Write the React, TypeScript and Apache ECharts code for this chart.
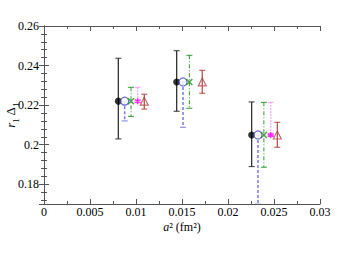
import React, { useEffect, useRef } from "react";
import * as echarts from "echarts";

// a^2 (fm^2) positions for each data set
const xBlack = [0.00808, 0.01442, 0.02257];
const xBlue = [0.00877, 0.01511, 0.02326];
const xGreen = [0.00946, 0.0158, 0.0239];
const xMagenta = [0.01018, 0.02464];
const xRed = [0.0109, 0.0172, 0.02536];

// central values r1*Delta1
const yBlack = [0.222, 0.2317, 0.2049];
const yBlue = [0.222, 0.2317, 0.2049];
const yGreen = [0.222, 0.2317, 0.2049];
const yMagenta = [0.222, 0.2049];
const yRed = [0.222, 0.2317, 0.2049];

// error bar lower / upper ends
const loBlack = [0.2029, 0.2169, 0.1889];
const hiBlack = [0.2437, 0.2475, 0.2216];
const loBlue = [0.212, 0.2088, 0.1699];
const hiBlue = [0.222, 0.2317, 0.2049];
const loGreen = [0.2143, 0.2184, 0.1886];
const hiGreen = [0.229, 0.2452, 0.2214];
const loMagenta = [0.222, 0.2049];
const hiMagenta = [0.229, 0.2214];
const loRed = [0.218, 0.226, 0.1987];
const hiRed = [0.2255, 0.2376, 0.2113];

const FONT = "'Liberation Serif', 'Times New Roman', serif";

function fmt(v: number) {
  return String(+v.toFixed(4));
}

function errSeries(xs: number[], lo: number[], hi: number[], color: string, width: number, dash: number[] | null) {
  return {
    type: "custom",
    xAxisIndex: 0,
    yAxisIndex: 0,
    clip: true,
    silent: true,
    encode: { x: 0, y: [1, 2] },
    data: xs.map((x, i) => [x, lo[i], hi[i]]),
    renderItem: (params: any, api: any) => {
      const x = api.value(0);
      const top = api.coord([x, api.value(2)]);
      const bot = api.coord([x, api.value(1)]);
      const hw = 3;
      const style: any = { stroke: color, lineWidth: width, fill: "none" };
      if (dash) style.lineDash = dash;
      return {
        type: "group",
        children: [
          { type: "line", shape: { x1: top[0], y1: top[1], x2: bot[0], y2: bot[1] }, style },
          { type: "line", shape: { x1: top[0] - hw, y1: top[1], x2: top[0] + hw, y2: top[1] }, style: { stroke: color, lineWidth: 1 } },
          { type: "line", shape: { x1: bot[0] - hw, y1: bot[1], x2: bot[0] + hw, y2: bot[1] }, style: { stroke: color, lineWidth: 1 } },
        ],
      };
    },
    z: 2,
  };
}

function markSeries(xs: number[], ys: number[], symbol: string, size: number, itemStyle: any) {
  return {
    type: "scatter",
    xAxisIndex: 0,
    yAxisIndex: 0,
    data: xs.map((x, i) => [x, ys[i]]),
    symbol,
    symbolSize: size,
    itemStyle,
    silent: true,
    z: 3,
  };
}

export default function App() {
  const ref = useRef<HTMLDivElement>(null);
  useEffect(() => {
    if (!ref.current) return;
    const chart = echarts.init(ref.current, null, { renderer: "svg" });
    const axisLine = { show: true, lineStyle: { color: "#555", width: 1 } };
    const xBase: any = {
      type: "value",
      min: 0,
      max: 0.03,
      interval: 0.005,
      axisLine,
      axisTick: { show: true, inside: true, length: 5, lineStyle: { color: "#555" } },
      minorTick: { show: true, splitNumber: 2, length: 3, lineStyle: { color: "#555" } },
      splitLine: { show: false },
      minorSplitLine: { show: false },
    };
    const yBase: any = {
      type: "value",
      min: 0.17,
      max: 0.26,
      splitNumber: 5,
      axisLine,
      axisTick: { show: true, inside: true, length: 5, lineStyle: { color: "#555" } },
      minorTick: { show: true, splitNumber: 5, length: 3, lineStyle: { color: "#555" } },
      splitLine: { show: false },
      minorSplitLine: { show: false },
    };
    chart.setOption({
      animation: false,
      backgroundColor: "#fff",
      textStyle: { fontFamily: FONT },
      grid: { left: 44, right: 32, top: 26, bottom: 68, containLabel: false, outerBoundsMode: "none" },
      xAxis: [
        {
          ...xBase,
          position: "bottom",
          axisLabel: { show: true, formatter: fmt, fontFamily: FONT, fontSize: 12, color: "#000", margin: 2 },
          name: "{i|a}{n|² (fm²)}",
          nameLocation: "middle",
          nameGap: 17,
          nameMoveOverlap: false,
          nameTextStyle: {
            rich: {
              i: { fontFamily: FONT, fontStyle: "italic", fontSize: 12, color: "#000" },
              n: { fontFamily: FONT, fontSize: 12, color: "#000" },
            },
          },
        },
        { ...xBase, position: "top", axisLabel: { show: false } },
      ],
      yAxis: [
        {
          ...yBase,
          position: "left",
          axisLabel: { show: true, formatter: fmt, fontFamily: FONT, fontSize: 12, color: "#000", margin: 5, showMinLabel: false },
          name: "{i|r}{s|1}{n| Δ}{s|1}",
          nameLocation: "middle",
          nameRotate: 90,
          nameGap: 27,
          nameMoveOverlap: false,
          nameTextStyle: {
            rich: {
              i: { fontFamily: FONT, fontStyle: "italic", fontSize: 13, color: "#000", lineHeight: 14, verticalAlign: "bottom" },
              n: { fontFamily: FONT, fontSize: 13, color: "#000", lineHeight: 14, verticalAlign: "bottom" },
              s: { fontFamily: FONT, fontSize: 9, color: "#000", lineHeight: 14, verticalAlign: "bottom", padding: [0, 0, -3, 0] },
            },
          },
        },
        { ...yBase, position: "right", axisLabel: { show: false } },
      ],
      series: [
        errSeries(xBlack, loBlack, hiBlack, "#333", 1.3, null),
        errSeries(xBlue, loBlue, hiBlue, "#7a7ae0", 1.5, [3, 2]),
        errSeries(xGreen, loGreen, hiGreen, "#2f9a2f", 1, [4, 2, 1, 2]),
        errSeries(xMagenta, loMagenta, hiMagenta, "#ff9cff", 1.5, [1.5, 1.5]),
        errSeries(xRed, loRed, hiRed, "#b04848", 1.2, null),
        markSeries(xBlack, yBlack, "circle", 7, { color: "#000" }),
        markSeries(xBlue, yBlue, "circle", 8, { color: "#fff", borderColor: "#4848d0", borderWidth: 1.2 }),
        markSeries(xGreen, yGreen, "path://M0,0L10,10M10,0L0,10", 6, { color: "none", borderColor: "#1f8f1f", borderWidth: 1.5 }),
        markSeries(xMagenta, yMagenta, "path://M5,0L5,10M0.7,2.5L9.3,7.5M0.7,7.5L9.3,2.5", 6, { color: "none", borderColor: "#ff00ff", borderWidth: 1.6 }),
        markSeries(xRed, yRed, "path://M5,0L10,8.66L0,8.66Z", 8, { color: "none", borderColor: "#b04848", borderWidth: 1.2 }),
      ],
    });
    return () => chart.dispose();
  }, []);
  return <div ref={ref} style={{ position: "absolute", left: 0, top: 0, width: 352, height: 272 }} />;
}
